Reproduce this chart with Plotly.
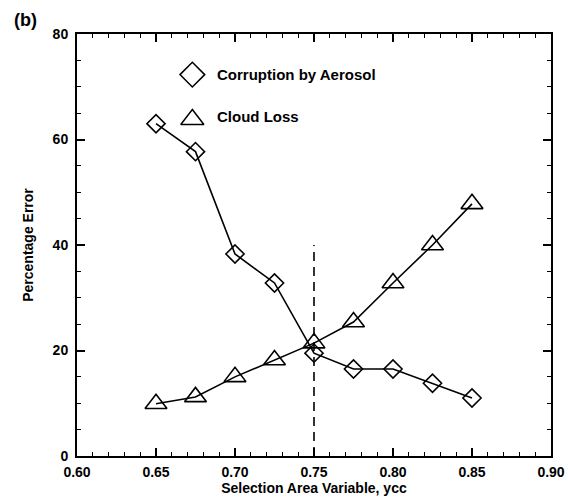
import plotly.graph_objects as go

x_vals = [0.65, 0.675, 0.70, 0.725, 0.75, 0.775, 0.80, 0.825, 0.85]
aerosol = [63.0, 57.7, 38.3, 32.8, 19.5, 16.5, 16.5, 13.8, 11.0]
cloud_loss = [9.9, 11.2, 15.0, 18.2, 21.4, 25.4, 32.8, 40.0, 47.8]
cut_x = 0.75
cut_y = [0, 40]
legend_names = ["Corruption by Aerosol", "Cloud Loss"]
x_ticks = [0.60, 0.65, 0.70, 0.75, 0.80, 0.85, 0.90]
y_ticks = [0, 20, 40, 60, 80]

FONT = "Liberation Sans, Arial, sans-serif"
fig = go.Figure()

fig.add_trace(go.Scatter(
    x=[cut_x, cut_x], y=cut_y, mode="lines",
    line=dict(color="black", width=1.6, dash="9px,6px"), showlegend=False))

fig.add_trace(go.Scatter(
    x=x_vals, y=aerosol, mode="lines+markers",
    line=dict(color="black", width=1.6),
    marker=dict(symbol="diamond-open", size=14, color="black", line=dict(width=1.6)),
    showlegend=False))

fig.add_trace(go.Scatter(
    x=x_vals, y=cloud_loss, mode="lines+markers",
    line=dict(color="black", width=1.6),
    marker=dict(symbol="triangle-up-open", size=19, color="black", line=dict(width=1.6)),
    showlegend=False))

# legend markers
leg_x = 0.673
leg_y = [72.3, 64.3]
fig.add_trace(go.Scatter(
    x=[leg_x], y=[leg_y[0]], mode="markers",
    marker=dict(symbol="diamond-open", size=19, color="black", line=dict(width=1.5)),
    showlegend=False))
fig.add_trace(go.Scatter(
    x=[leg_x], y=[leg_y[1] - 0.5], mode="markers",
    marker=dict(symbol="triangle-up-open", size=20, color="black", line=dict(width=1.5)),
    showlegend=False))
for name, yy in zip(legend_names, leg_y):
    fig.add_annotation(x=leg_x + 0.0145, y=yy, xref="x", yref="y", text="<b>%s</b>" % name,
                       showarrow=False, xanchor="left", yanchor="middle",
                       font=dict(family=FONT, size=15, color="black"))

fig.add_annotation(x=-0.137, y=1.033, xref="paper", yref="paper", text="<b>(b)</b>",
                   showarrow=False, xanchor="left", yanchor="middle",
                   font=dict(family=FONT, size=18, color="black"))

axis_common = dict(
    showline=True, linecolor="black", linewidth=2, mirror="ticks",
    ticks="inside", ticklen=8, tickwidth=1.5, tickcolor="black",
    showgrid=False, zeroline=False, automargin=False,
    tickfont=dict(family=FONT, size=14, color="black", weight="bold"),
)

fig.update_xaxes(
    range=[0.60, 0.90], tickvals=x_ticks, ticktext=["%.2f" % v for v in x_ticks],
    ticklabelstandoff=2,
    minor=dict(ticks="inside", ticklen=4, dtick=0.01, tick0=0.6, tickcolor="black", tickwidth=1.2),
    title=dict(text="<b>Selection Area Variable, ycc</b>", font=dict(family=FONT, size=14, color="black"), standoff=2),
    **axis_common)
fig.update_yaxes(
    range=[0, 80], tickvals=y_ticks, ticktext=[str(v) for v in y_ticks],
    ticklabelstandoff=4,
    minor=dict(ticks="inside", ticklen=4, dtick=5, tick0=0, tickcolor="black", tickwidth=1.2),
    title=dict(text="<b>Percentage Error</b>", font=dict(family=FONT, size=14, color="black"), standoff=16),
    **axis_common)

fig.update_layout(
    width=569, height=502,
    margin=dict(l=77, r=18, t=34, b=46),
    plot_bgcolor="white", paper_bgcolor="white",
    font=dict(family=FONT, color="black"),
)

fig.write_html("out.html", config={"displayModeBar": False},
               post_script="document.body.style.margin='0';document.body.style.padding='0';")
